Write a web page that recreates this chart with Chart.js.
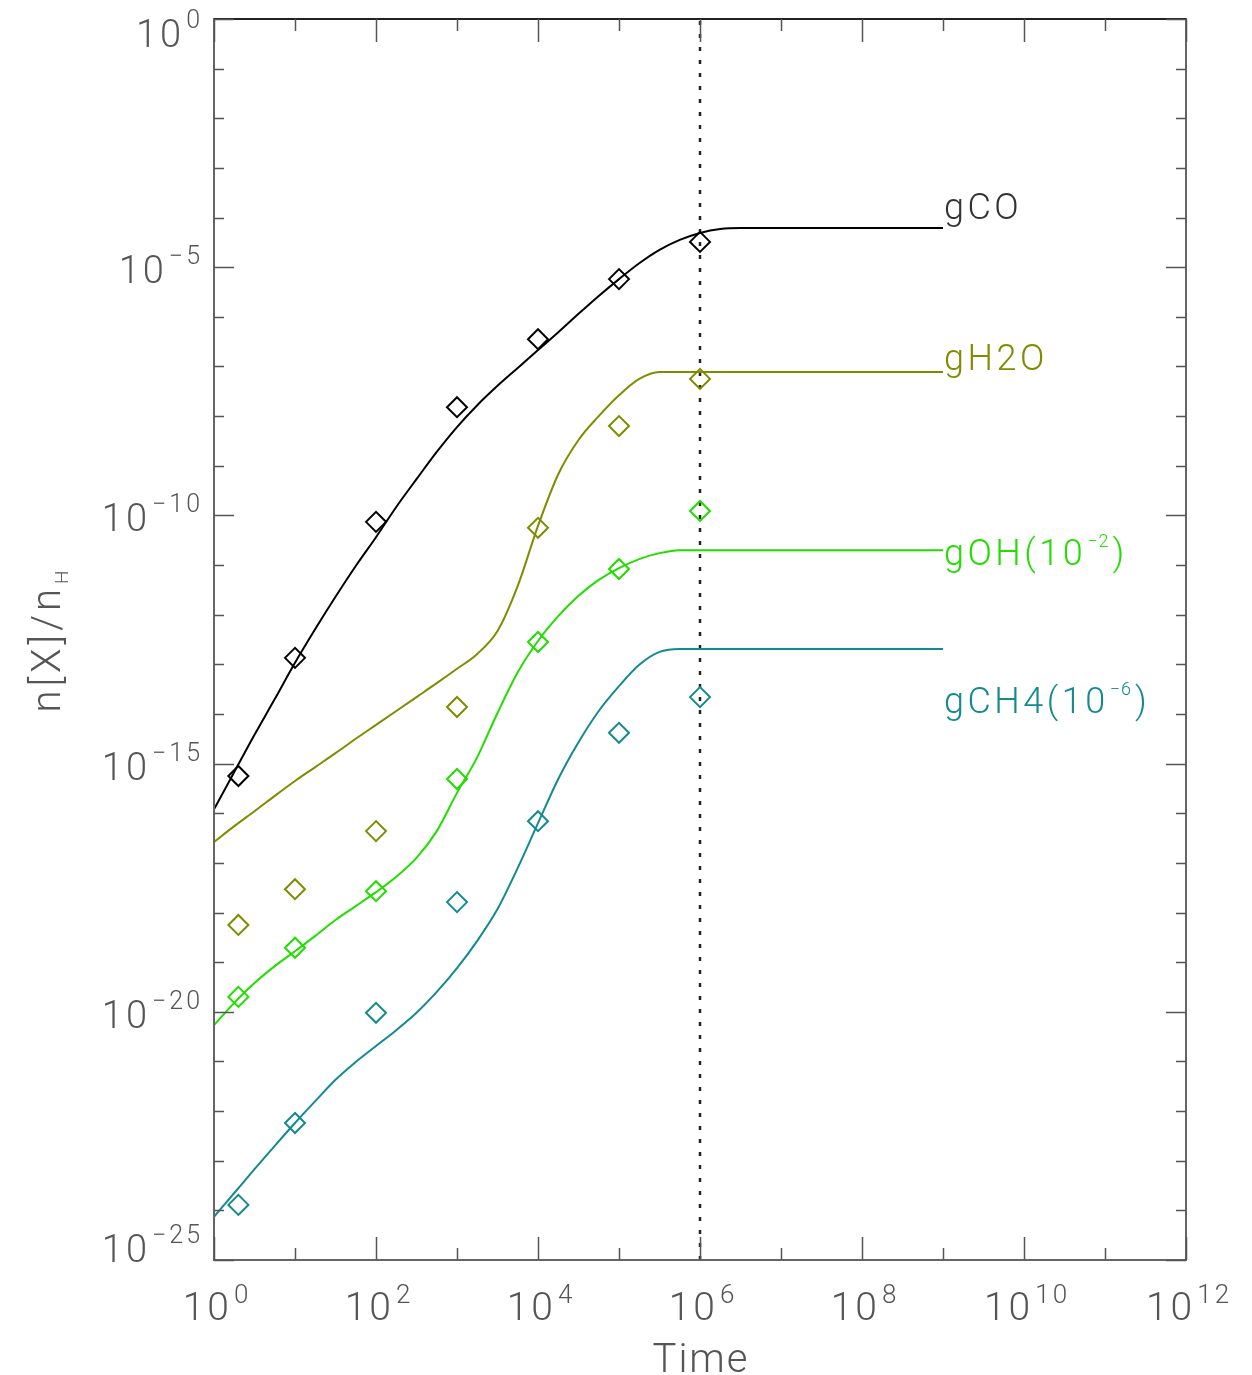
<!DOCTYPE html>
<html>
<head>
<meta charset="utf-8">
<script src="https://cdn.jsdelivr.net/npm/chart.js@4.4.0/dist/chart.umd.min.js"></script>
<style>
  html, body { margin: 0; padding: 0; background: #fff; }
  #wrap { width: 1252px; height: 1375px; }
</style>
</head>
<body>
<div id="wrap"><canvas id="chart" width="1252" height="1375"></canvas></div>
<script>
/* ---- data (log10 values) ---- */
const lineLogTime = [0, 0.25, 0.5, 0.75, 1, 1.25, 1.5, 1.75, 2, 2.25, 2.5, 2.75, 3, 3.25,
  3.5, 3.75, 4, 4.25, 4.5, 4.75, 5, 5.25, 5.5, 5.75, 6, 6.25, 6.5, 9];

const gCOLine = [-15.92, -15.17, -14.42, -13.70, -12.97, -12.29, -11.64, -11.02, -10.44, -9.83,
  -9.27, -8.72, -8.22, -7.78, -7.39, -7.03, -6.67, -6.31, -5.94, -5.58, -5.24, -4.92, -4.65,
  -4.45, -4.31, -4.23, -4.21, -4.21];
const gH2OLine = [-16.58, -16.26, -15.96, -15.65, -15.35, -15.07, -14.79, -14.50, -14.22, -13.94,
  -13.66, -13.38, -13.09, -12.79, -12.33, -11.42, -10.21, -9.17, -8.48, -8.00, -7.58, -7.25,
  -7.11, -7.11, -7.11, -7.11, -7.11, -7.11];
const gOHLine = [-20.27, -19.82, -19.42, -19.08, -18.78, -18.47, -18.15, -17.87, -17.59, -17.28,
  -16.90, -16.36, -15.59, -14.87, -13.98, -13.16, -12.53, -12.03, -11.62, -11.30, -11.06, -10.88,
  -10.76, -10.70, -10.70, -10.70, -10.70, -10.70];
const gCH4Line = [-24.13, -23.65, -23.17, -22.70, -22.24, -21.80, -21.37, -21.01, -20.69, -20.37,
  -20.02, -19.60, -19.12, -18.57, -17.93, -17.10, -16.20, -15.31, -14.57, -13.94, -13.44, -13.01,
  -12.75, -12.69, -12.69, -12.69, -12.69, -12.69];

const markerTime = [2, 10, 100, 1e3, 1e4, 1e5, 1e6];
const gCOMarks = [-15.25, -12.87, -10.13, -7.82, -6.45, -5.24, -4.49];
const gH2OMarks = [-18.25, -17.53, -16.36, -13.86, -10.25, -8.20, -7.25];
const gOHMarks = [-19.70, -18.71, -17.57, -15.31, -12.55, -11.08, -9.91];
const gCH4Marks = [-23.89, -22.24, -20.02, -17.79, -16.16, -14.38, -13.66];

const xTickExp = [0, 1, 2, 3, 4, 5, 6, 7, 8, 9, 10, 11, 12];
const yTickExp = [0, -1, -2, -3, -4, -5, -6, -7, -8, -9, -10, -11, -12, -13, -14, -15, -16,
  -17, -18, -19, -20, -21, -22, -23, -24, -25];
const markerTimeLine = 1e6;

const species = ['gCO', 'gH2O', 'gOH', 'gCH4'];
const colors = ['#000000', '#7f8c00', '#22dd00', '#138a8f'];

/* ---- helpers ---- */
const pow10 = e => Math.pow(10, e);
const pts = (xs, logs) => xs.map((x, i) => ({ x: x, y: pow10(logs[i]) }));
const lineTime = lineLogTime.map(pow10);

const lineSets = [gCOLine, gH2OLine, gOHLine, gCH4Line];
const markSets = [gCOMarks, gH2OMarks, gOHMarks, gCH4Marks];

const datasets = [];
lineSets.forEach((arr, i) => {
  datasets.push({
    label: species[i],
    data: pts(lineTime, arr),
    borderColor: colors[i],
    borderWidth: 2,
    pointRadius: 0,
    cubicInterpolationMode: 'monotone',
    fill: false
  });
});
markSets.forEach((arr, i) => {
  datasets.push({
    label: species[i] + ' model',
    data: pts(markerTime, arr),
    showLine: false,
    pointStyle: 'rectRot',
    pointRadius: 10,
    pointBorderWidth: 2,
    pointBorderColor: colors[i],
    pointBackgroundColor: 'rgba(0,0,0,0)'
  });
});
// dotted vertical line at t = 1e6
datasets.push({
  label: 'now',
  data: [{ x: markerTimeLine, y: pow10(-25) }, { x: markerTimeLine, y: 1 }],
  borderColor: '#222',
  borderWidth: 2.5,
  borderDash: [4, 9],
  pointRadius: 0
});

const FONT = 'Roboto, "DejaVu Sans", sans-serif';
const TEXT = '#555';

function spacing(ctx, px) {
  if ('letterSpacing' in ctx) ctx.letterSpacing = px + 'px';
}

function drawPow(ctx, exp, x, y, align, bigSize, supSize, raise, color, sp) {
  const base = '10';
  const sup = exp < 0 ? '\u2212' + Math.abs(exp) : String(exp);
  spacing(ctx, sp);
  ctx.font = '300 ' + bigSize + 'px ' + FONT;
  const wb = ctx.measureText(base).width;
  ctx.font = '300 ' + supSize + 'px ' + FONT;
  const ws = ctx.measureText(sup).width;
  const w = wb + ws + 2;
  let left = x;
  if (align === 'center') left = x - w / 2;
  if (align === 'right') left = x - w;
  ctx.fillStyle = color;
  ctx.textAlign = 'left';
  ctx.textBaseline = 'alphabetic';
  ctx.font = '300 ' + bigSize + 'px ' + FONT;
  ctx.fillText(base, left, y);
  ctx.font = '300 ' + supSize + 'px ' + FONT;
  ctx.fillText(sup, left + wb + 2, y - raise);
  spacing(ctx, 0);
}

const decorations = {
  id: 'decorations',
  afterDraw(chart) {
    const { ctx, chartArea: a, scales: { x, y } } = chart;
    ctx.save();

    // frame
    ctx.lineWidth = 2;
    ctx.strokeStyle = '#666';
    ctx.strokeRect(a.left, a.top, a.right - a.left, a.bottom - a.top);
    ctx.strokeStyle = '#222';
    ctx.beginPath();
    ctx.moveTo(a.left, a.top); ctx.lineTo(a.right, a.top);
    ctx.stroke();

    // inward ticks on all sides
    ctx.strokeStyle = '#555';
    ctx.lineWidth = 1.5;
    ctx.beginPath();
    x.ticks.forEach(t => {
      const e = Math.round(Math.log10(t.value));
      const px = Math.round(x.getPixelForValue(t.value)) + 0.5;
      const len = e % 2 === 0 ? 23 : 12;
      ctx.moveTo(px, a.bottom); ctx.lineTo(px, a.bottom - len);
      ctx.moveTo(px, a.top); ctx.lineTo(px, a.top + len);
    });
    y.ticks.forEach(t => {
      const e = Math.round(Math.log10(t.value));
      const py = Math.round(y.getPixelForValue(t.value)) + 0.5;
      const len = e % 5 === 0 ? 20 : 10;
      ctx.moveTo(a.left, py); ctx.lineTo(a.left + len, py);
      ctx.moveTo(a.right, py); ctx.lineTo(a.right - len, py);
    });
    ctx.stroke();

    // x tick labels
    x.ticks.forEach(t => {
      const e = Math.round(Math.log10(t.value));
      if (e % 2 !== 0) return;
      drawPow(ctx, e, x.getPixelForValue(t.value) + 3, a.bottom + 60, 'center', 39, 26, 17, TEXT, 3);
    });
    // y tick labels
    y.ticks.forEach(t => {
      const e = Math.round(Math.log10(t.value));
      if (e % 5 !== 0) return;
      let base = y.getPixelForValue(t.value) + 16;
      base = Math.min(Math.max(base, a.top + 28), a.bottom + 2);
      drawPow(ctx, e, a.left - 11, base, 'right', 38, 25, 19, TEXT, 3);
    });

    // axis titles
    ctx.fillStyle = TEXT;
    ctx.textAlign = 'center';
    ctx.textBaseline = 'alphabetic';
    spacing(ctx, 2);
    ctx.font = '300 40px ' + FONT;
    ctx.fillText('Time', (a.left + a.right) / 2 + 1, 1372);

    ctx.save();
    ctx.translate(60, 639);
    ctx.rotate(-Math.PI / 2);
    spacing(ctx, 4);
    ctx.font = '300 40px ' + FONT;
    const main = 'n[X]/n';
    const wm = ctx.measureText(main).width;
    ctx.font = '300 19px ' + FONT;
    const wsub = ctx.measureText('H').width;
    const left = -(wm + wsub + 2) / 2;
    ctx.textAlign = 'left';
    ctx.font = '300 40px ' + FONT;
    ctx.fillText(main, left, 0);
    ctx.font = '300 19px ' + FONT;
    ctx.fillText('H', left + wm + 1, 8);
    ctx.restore();

    // species labels at the line ends
    const lx = x.getPixelForValue(pow10(9)) + 1;
    const labelBase = [-4.03, -7.07, -11.0, -13.98];
    ctx.textAlign = 'left';
    species.forEach((name, i) => {
      const by = y.getPixelForValue(pow10(labelBase[i]));
      ctx.fillStyle = colors[i] === '#000000' ? '#333' : colors[i];
      spacing(ctx, 3.5);
      ctx.font = '300 36px ' + FONT;
      if (name === 'gOH' || name === 'gCH4') {
        const pre = name + '(10';
        ctx.fillText(pre, lx, by);
        let w = ctx.measureText(pre).width;
        const sup = name === 'gOH' ? '\u22122' : '\u22126';
        spacing(ctx, 1);
        ctx.font = '300 18px ' + FONT;
        ctx.fillText(sup, lx + w + 1, by - 18);
        w += ctx.measureText(sup).width + 4;
        spacing(ctx, 3.5);
        ctx.font = '300 36px ' + FONT;
        ctx.fillText(')', lx + w, by);
      } else {
        ctx.fillText(name, lx, by);
      }
    });
    spacing(ctx, 0);

    ctx.restore();
  }
};

new Chart(document.getElementById('chart'), {
  type: 'line',
  data: { datasets: datasets },
  options: {
    responsive: false,
    animation: false,
    devicePixelRatio: 1,
    layout: { padding: { top: 19, right: 66, left: 0, bottom: 0 } },
    plugins: { legend: { display: false }, tooltip: { enabled: false } },
    scales: {
      x: {
        type: 'logarithmic',
        min: 1,
        max: 1e12,
        grid: { display: false },
        border: { display: false },
        ticks: { display: false },
        afterBuildTicks: s => { s.ticks = xTickExp.map(e => ({ value: pow10(e) })); },
        afterFit: s => { s.height = 115; }
      },
      y: {
        type: 'logarithmic',
        min: 1e-25,
        max: 1,
        grid: { display: false },
        border: { display: false },
        ticks: { display: false },
        afterBuildTicks: s => { s.ticks = yTickExp.map(e => ({ value: pow10(e) })); },
        afterFit: s => { s.width = 214; }
      }
    }
  },
  plugins: [decorations]
});
</script>
</body>
</html>
